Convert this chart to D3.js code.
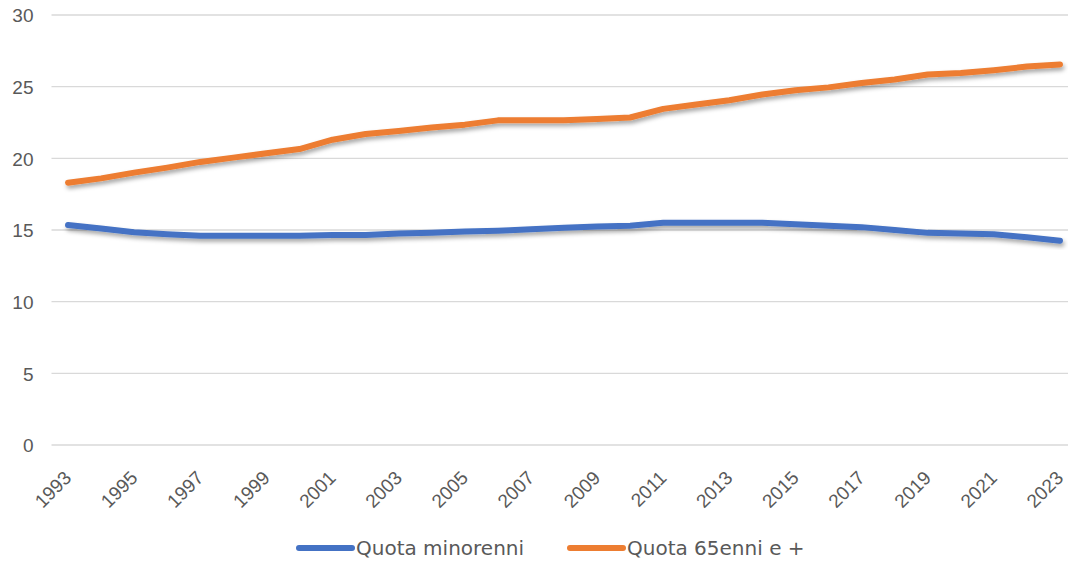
<!DOCTYPE html>
<html>
<head>
<meta charset="utf-8">
<script src="https://cdn.jsdelivr.net/npm/d3@7"></script>
<style>
	body { margin: 0; background: #fff; }
	svg { display: block; font-family: 'DejaVu Sans', sans-serif; }
	.tick text { fill: #595959; }
</style>
</head>
<body>
<div id="chart"></div>
<script>
const years = d3.range(1993, 2024);
const yTicks = [0, 5, 10, 15, 20, 25, 30];
const xTickYears = years.filter(y => (y - 1993) % 2 === 0);

const quotaMinorenni = [
	15.35, 15.1, 14.85, 14.7, 14.6, 14.6, 14.6, 14.6, 14.65, 14.65,
	14.75, 14.8, 14.9, 14.95, 15.05, 15.15, 15.25, 15.3, 15.5, 15.5,
	15.5, 15.5, 15.4, 15.3, 15.2, 15.0, 14.8, 14.75, 14.7, 14.5, 14.25
];
const quota65 = [
	18.3, 18.6, 19.0, 19.35, 19.75, 20.05, 20.35, 20.65, 21.3, 21.7,
	21.9, 22.15, 22.35, 22.65, 22.65, 22.65, 22.75, 22.85, 23.45, 23.75,
	24.05, 24.45, 24.75, 24.95, 25.25, 25.5, 25.85, 25.95, 26.15, 26.4, 26.55
];

const seriesNames = ['Quota minorenni', 'Quota 65enni e +'];
const seriesColors = ['#4472c4', '#ed7d31'];

const W = 1068;
const H = 562;
const plot = { left: 51.5, right: 1076.5, top: 15, bottom: 445 };

const $svg = d3.select('#chart').append('svg').attr('width', W).attr('height', H);

const defs = $svg.append('defs');
defs.append('filter')
	.attr('id', 'shadow')
	.attr('x', '-5%').attr('y', '-50%').attr('width', '110%').attr('height', '200%')
	.append('feDropShadow')
	.attr('dx', 1.5).attr('dy', 3).attr('stdDeviation', 2)
	.attr('flood-color', '#000').attr('flood-opacity', 0.35);

const x = d3.scalePoint().domain(years).range([plot.left, plot.right]).padding(0.5);
const y = d3.scaleLinear().domain([0, 30]).range([plot.bottom, plot.top]);

// gridlines
$svg.append('g')
	.selectAll('line')
	.data(yTicks)
	.join('line')
	.attr('x1', plot.left).attr('x2', plot.right)
	.attr('y1', d => y(d)).attr('y2', d => y(d))
	.attr('stroke', '#d9d9d9').attr('stroke-width', 1.3);

// y axis labels
const $yAxis = $svg.append('g')
	.attr('transform', `translate(${plot.left - 18},0)`)
	.call(d3.axisLeft(y).tickValues(yTicks).tickSize(0).tickPadding(0));
$yAxis.select('.domain').remove();
$yAxis.selectAll('text').style('font-size', '19px').attr('dy', '0.36em');

// x axis labels, rotated, ending just right of the point
const $xAxis = $svg.append('g')
	.attr('transform', `translate(0,${plot.bottom})`)
	.call(d3.axisBottom(x).tickValues(xTickYears).tickSize(0).tickPadding(0));
$xAxis.select('.domain').remove();
$xAxis.selectAll('text')
	.style('font-size', '19px')
	.attr('text-anchor', 'end')
	.attr('y', 0)
	.attr('dy', 0)
	.attr('transform', 'translate(4,34) rotate(-45)');

// lines
const line = d3.line().x((d, i) => x(years[i])).y(d => y(d));

$svg.append('g')
	.selectAll('path')
	.data([quotaMinorenni, quota65])
	.join('path')
	.attr('d', line)
	.attr('fill', 'none')
	.attr('stroke', (d, i) => seriesColors[i])
	.attr('stroke-width', 6)
	.attr('stroke-linecap', 'round')
	.attr('stroke-linejoin', 'round')
	.attr('filter', 'url(#shadow)');

// legend
const legendX = [297, 568];
const $legend = $svg.append('g')
	.selectAll('g')
	.data(seriesNames)
	.join('g')
	.attr('transform', (d, i) => `translate(${legendX[i]},548)`);

$legend.append('line')
	.attr('x1', 2).attr('x2', 55)
	.attr('stroke', (d, i) => seriesColors[i])
	.attr('stroke-width', 6)
	.attr('stroke-linecap', 'round');

$legend.append('text')
	.attr('x', 59)
	.attr('dy', '0.35em')
	.style('font-size', '20px')
	.attr('fill', '#595959')
	.text(d => d);
</script>
</body>
</html>
